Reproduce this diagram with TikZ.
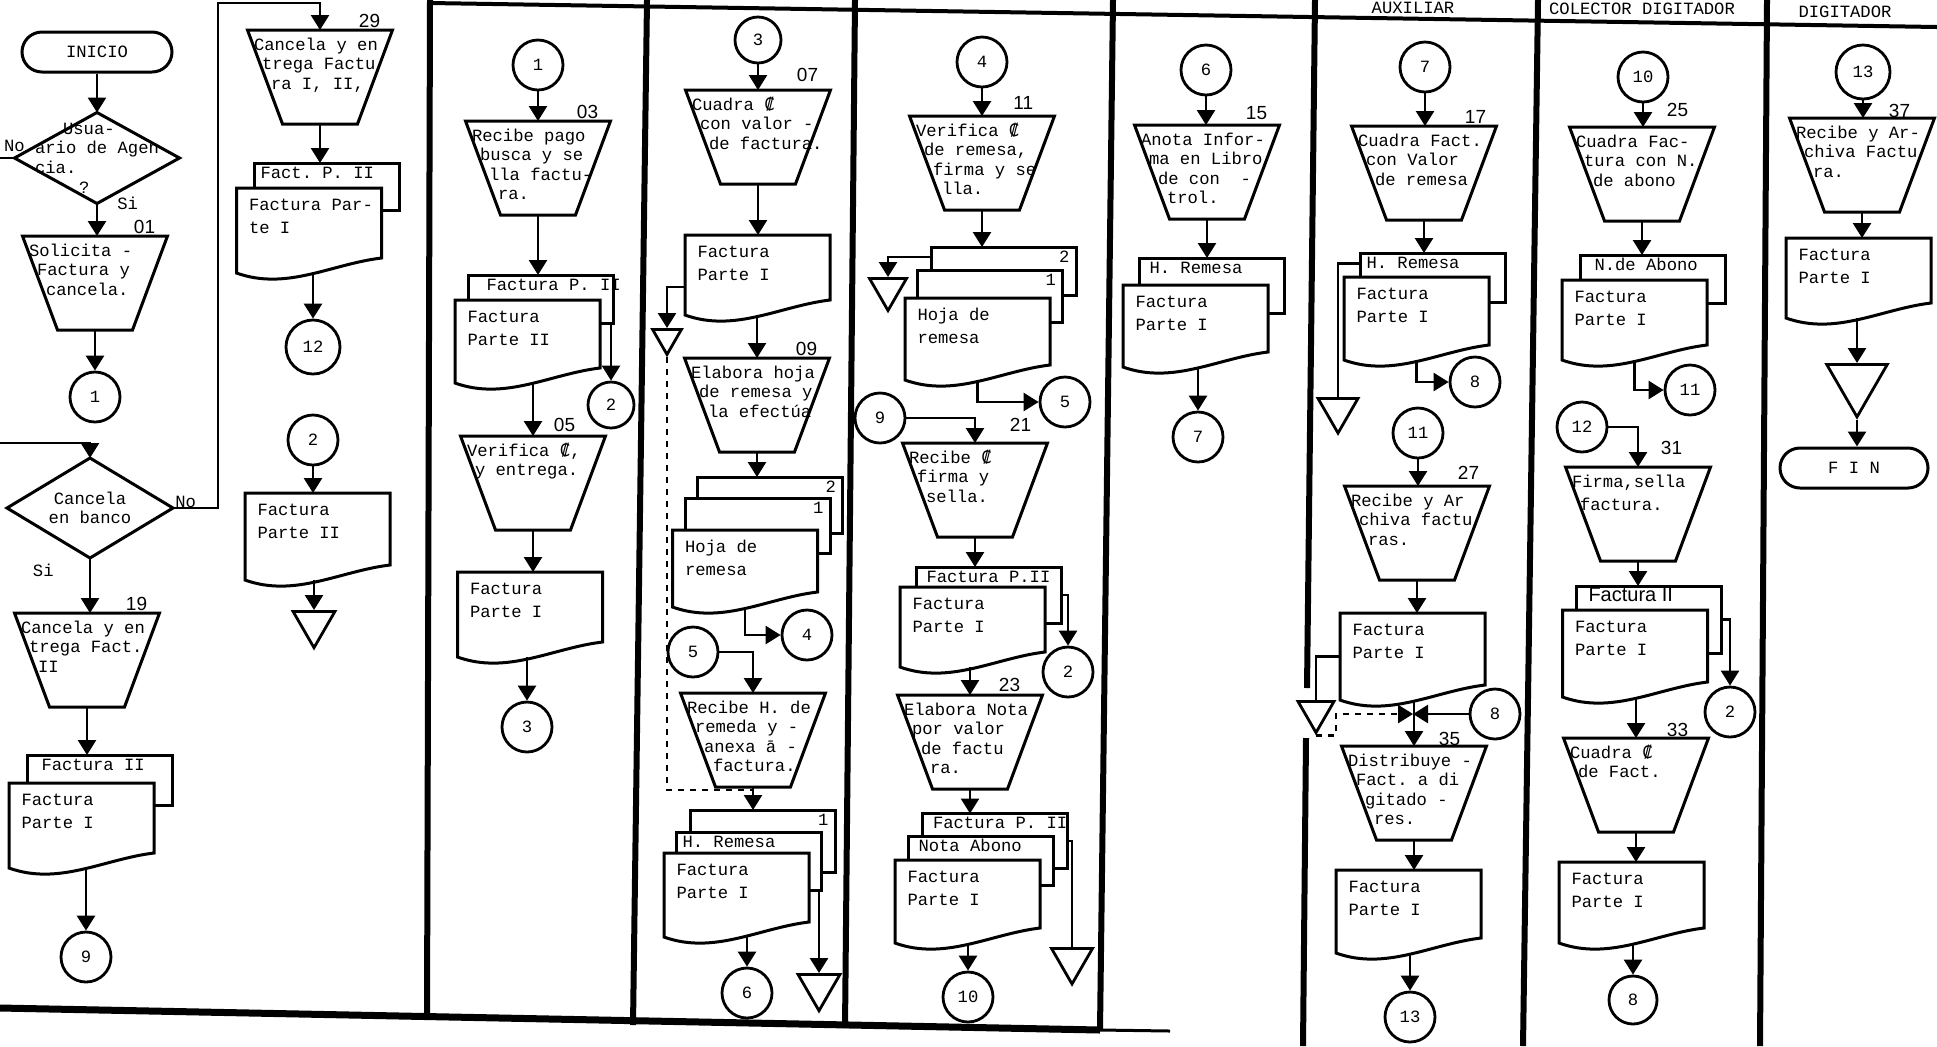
\documentclass[tikz,border=0pt]{standalone}
\usepackage{fontspec}
\setmonofont{Liberation Mono}
\setsansfont{Liberation Sans}
\newfontfamily\dvmono{DejaVu Sans Mono}
\usetikzlibrary{positioning,arrows.meta,shapes.geometric}

\newcommand\colones{{\dvmono ₡}}
% text inside a process (trapezoid), lines follow the slanted side
\newcommand\trp[1]{\makebox[68pt][l]{\parbox[c][43pt][t]{68pt}{\parshape 4 1pt 90pt 5pt 90pt 9.5pt 90pt 14pt 90pt \rule{0pt}{8pt}#1}}}
\newcommand\trapecio[1]{\draw[forma] (#1.north west) -- (#1.north east) -- ([xshift=-17.5pt]#1.south east) -- ([xshift=17.5pt]#1.south west) -- cycle;}
% document: name, x, y, height, text
\newcommand\hoja[5]{%
  \draw[forma, fill=white] ([shift={(-36.25pt,#4/2)}]#2,#3) -- ([shift={(36.25pt,#4/2)}]#2,#3)
    -- ([shift={(36.25pt,-#4/2+7.5pt)}]#2,#3)
    .. controls +(-25pt,-3pt) and +(25pt,-9pt) .. ([shift={(-36.25pt,-#4/2)}]#2,#3) -- cycle;
  \node[documento, minimum height=#4] (#1) at (#2,#3)
    {\makebox[64pt][l]{\parbox[c][\dimexpr#4-4pt\relax][t]{64pt}{\parshape 1 2pt 90pt \rule{0pt}{9pt}#5}}};
}
% copy behind a document: name, x, y, height, label
\newcommand\caja[5]{%
  \node[copia, minimum height=#4] (#1) at (#2,#3)
    {\parbox[c][\dimexpr#4-2pt\relax][t]{66pt}{\makebox[66pt][l]{\rule{0pt}{6.5pt}#5}}};
}

\tikzset{
  forma/.style={line width=1.5pt},
  flecha/.style={line width=1.3pt, -{Triangle[width=9pt,length=7.5pt]}},
  linea/.style={line width=1.3pt},
  marco/.style={line width=3pt},
  proceso/.style={inner sep=0pt, outer sep=0pt, minimum width=72.5pt, minimum height=47pt},
  documento/.style={inner sep=0pt, outer sep=0pt, minimum width=72.5pt, font=\ttfamily\fontsize{8.6}{11.5}\selectfont},
  copia/.style={draw, fill=white, line width=1.5pt, inner sep=0pt, outer sep=0pt, minimum width=72.5pt},
  conector/.style={circle, draw, line width=1.4pt, inner sep=0pt, minimum size=25pt},
  archivo/.style={regular polygon, regular polygon sides=3, shape border rotate=180, draw, line width=1.4pt, inner sep=0pt, anchor=north},
  terminal/.style={draw, line width=1.5pt, rounded corners=10pt, minimum width=75pt, minimum height=20pt},
  paso/.style={font=\sffamily\fontsize{9.5}{10}\selectfont, inner sep=0pt},
  rotulo/.style={font=\ttfamily\fontsize{8.6}{10}\selectfont, inner sep=0pt}
}

\begin{document}
\begin{tikzpicture}[x=0.5pt, y=-0.5pt, font=\ttfamily\fontsize{8.6}{9.8}\selectfont]
\useasboundingbox (0,0) rectangle (1937,1046);
\clip (0,0) rectangle (1937,1046);

% Frame and lanes
\draw[marco, line width=2pt] (430,3) -- (1937,27);
\draw[marco] (430,0) -- (427,1018);
\draw[marco] (647,0) -- (633,1025);
\draw[marco] (855,0) -- (845,1028);
\draw[marco] (1113,0) -- (1100,1030);
\draw[marco] (1315,0) -- (1307,688);
\draw[marco] (1306,738) -- (1303,1046);
\draw[marco] (1538,0) -- (1523,1046);
\draw[marco] (1767,0) -- (1760,1046);
\draw[marco, line width=3.5pt] (0,1008) -- (1100,1030);
\draw[marco, line width=1.5pt] (1100,1030) -- (1170,1031);

\node[rotulo] (hAux) at (1413,8) {AUXILIAR};
\node[rotulo] (hCol) at (1642,9) {COLECTOR DIGITADOR};
\node[rotulo] (hDig) at (1845,12) {DIGITADOR};

% Lane 1
\node[terminal] (inicio) at (97,52) {INICIO};
\node[proceso, minimum width=82.5pt, minimum height=45.5pt, align=left] (d1) at (97,158)
  {\hspace*{14pt}Usua-\\ario de Agen\\cia.\\\hspace*{22pt}?};
\draw[forma] (d1.north) -- (d1.east) -- (d1.south) -- (d1.west) -- cycle;
\node[rotulo, above=3pt of d1.west] (no1) {No};
\node[rotulo, right=10pt of d1.south] (si1) {Si};
\node[proceso] (t01) at (95,283) {\trp{Solicita -\\Factura y\\cancela.}};
\trapecio{t01}
\node[paso, above left=1pt and 6pt of t01.north east] (n01) {01};
\node[conector] (c1) at (95,397) {1};
\coordinate (bordeA) at (0,158);
\coordinate (bordeB) at (0,443);

\node[proceso, minimum width=83pt, minimum height=50pt, align=center] (d2) at (90,508) {Cancela\\en banco};
\draw[forma] (d2.north) -- (d2.east) -- (d2.south) -- (d2.west) -- cycle;
\node[rotulo, above right=0pt and 1pt of d2.east] (no2) {No};
\node[rotulo, below left=3pt and 18pt of d2.south] (si2) {Si};
\node[proceso] (t19) at (87,660) {\trp{Cancela y en\\trega Fact.\\II}};
\trapecio{t19}
\node[paso, above left=1pt and 6pt of t19.north east] (n19) {19};
\caja{pb19}{99.5}{780}{25pt}{\hspace*{4pt}Factura II}
\hoja{d19}{81.5}{825.5}{42.5pt}{Factura\\Parte I}
\node[conector] (c9) at (86,957) {9};

\coordinate (retorno) at (218,3);
\node[proceso] (t29) at (320,77) {\trp{Cancela y en\\trega Factu\\ra I, II,}};
\trapecio{t29}
\node[paso, above left=1pt and 6pt of t29.north east] (n29) {29};
\caja{pb29}{326.5}{186.5}{23.5pt}{Fact. P. II}
\hoja{d29}{309}{230.5}{42.5pt}{Factura Par-\\te I}
\node[conector, minimum size=27pt] (c12) at (313,347) {12};
\node[conector] (c2a) at (313,440) {2};
\hoja{d2a}{317.5}{536.5}{43.5pt}{Factura\\Parte II}
\node[archivo, minimum size=24.2pt] (tri1) at (314,610) {};

% Lane 2
\node[conector] (c1b) at (538,65) {1};
\node[proceso] (t03) at (538,168) {\trp{Recibe pago\\busca y se\\lla factu-\\ra.}};
\trapecio{t03}
\node[paso, above left=1pt and 6pt of t03.north east] (n03) {03};
\caja{pb03}{540.5}{299}{24pt}{\hspace*{6pt}Factura P. II}
\hoja{d03}{527.5}{341.5}{41.5pt}{Factura\\Parte II}
\node[conector, minimum size=23pt] (c2b) at (611,405) {2};
\node[proceso] (t05) at (533,483) {\trp{Verifica \colones,\\y entrega.}};
\trapecio{t05}
\node[paso, above left=2pt and 15pt of t05.north east] (n05) {05};
\hoja{d05}{530}{614.5}{42.5pt}{Factura\\Parte I}
\node[conector] (c3a) at (527,727) {3};

% Lane 3
\node[conector, minimum size=23pt] (c3b) at (758,40) {3};
\node[proceso] (t07) at (758,137) {\trp{Cuadra \colones\\con valor -\\de factura.}};
\trapecio{t07}
\node[paso, above left=4pt and 6pt of t07.north east] (n07) {07};
\hoja{d07}{757.5}{275}{40pt}{Factura\\Parte I}
\node[archivo, minimum size=16.7pt] (tri2) at (667,328) {};
\node[proceso] (t09) at (757,405) {\trp{Elabora hoja\\de remesa y\\la efectúa}};
\trapecio{t09}
\node[paso, above left=1pt and 6pt of t09.north east] (n09) {09};
\caja{pb09a}{770}{505}{28pt}{\hfill 2}
\caja{pb09b}{757.5}{525.5}{27.5pt}{\hfill 1}
\hoja{d09}{745}{568.5}{38.5pt}{Hoja de\\remesa}
\node[conector] (c4a) at (807,635) {4};
\node[conector] (c5a) at (693,652) {5};
\node[proceso] (t13) at (753,740) {\trp{Recibe H. de\\remeda y -\\anexa ā -\\factura.}};
\trapecio{t13}
\coordinate (junta) at (753,790);
\caja{pb13a}{762.5}{841}{31pt}{\hfill 1}
\caja{pb13b}{748.5}{861}{29pt}{H. Remesa}
\hoja{d13}{736.5}{895}{42pt}{Factura\\Parte I}
\node[archivo, minimum size=24.2pt] (tri3) at (819,973) {};
\node[conector] (c6a) at (747,993) {6};

% Lane 4
\node[conector] (c4b) at (982,62) {4};
\node[proceso] (t11) at (982,163) {\trp{Verifica \colones\\de remesa,\\firma y se\\lla.}};
\trapecio{t11}
\node[paso, above left=3pt and 10.5pt of t11.north east] (n11) {11};
\caja{pb11a}{1003.5}{271}{24pt}{\hfill 2}
\caja{pb11b}{990}{296}{26pt}{\hfill 1}
\hoja{d11}{977.5}{339}{41pt}{Hoja de\\remesa}
\node[archivo, minimum size=21.4pt] (tri4) at (888,277) {};
\node[conector] (c5b) at (1065,402) {5};
\node[conector] (c9b) at (880,418) {9};
\node[proceso] (t21) at (975,490) {\trp{Recibe \colones\\firma y\\sella.}};
\trapecio{t21}
\node[paso, above left=5.5pt and 8pt of t21.north east] (n21) {21};
\caja{pb21}{988.5}{595}{28pt}{\hspace*{2pt}Factura P.II}
\hoja{d21}{972.5}{627}{40pt}{Factura\\Parte I}
\node[conector] (c2c) at (1068,672) {2};
\node[proceso] (t23) at (970,742) {\trp{Elabora Nota\\por valor\\de factu\\ra.}};
\trapecio{t23}
\node[paso, above left=1.5pt and 11pt of t23.north east] (n23) {23};
\caja{pb23a}{995}{841}{27.5pt}{\hspace*{2pt}Factura P. II}
\caja{pb23b}{980.5}{860.5}{24.5pt}{\hspace*{2pt}Nota Abono}
\hoja{d23}{967.5}{901.5}{41.5pt}{Factura\\Parte I}
\node[archivo, minimum size=23.7pt] (tri5) at (1072,947) {};
\node[conector] (c10a) at (968,997) {10};

% Lane 5
\node[conector] (c6b) at (1206,70) {6};
\node[proceso] (t15) at (1207,172) {\trp{Anota Infor-\\ma en Libro\\de con\ \ -\\trol.}};
\trapecio{t15}
\node[paso, above left=2.5pt and 6pt of t15.north east] (n15) {15};
\caja{pb15}{1211.5}{285.5}{27.5pt}{\hspace*{2pt}H. Remesa}
\hoja{d15}{1195.5}{326}{41pt}{Factura\\Parte I}
\node[conector] (c7a) at (1198,437) {7};

% Lane 6
\node[conector] (c7b) at (1425,67) {7};
\node[proceso] (t17) at (1424,173) {\trp{Cuadra Fact.\\con Valor\\de remesa}};
\trapecio{t17}
\node[paso, above left=1pt and 5pt of t17.north east] (n17) {17};
\caja{pb17}{1432.5}{277.5}{24.5pt}{H. Remesa}
\hoja{d17}{1416.5}{318.5}{41.5pt}{Factura\\Parte I}
\node[archivo, minimum size=23.1pt] (tri6) at (1338,397) {};
\node[conector] (c8a) at (1475,382) {8};
\node[conector] (c11a) at (1418,433) {11};
\node[proceso] (t27) at (1417,533) {\trp{Recibe y Ar\\chiva factu\\ras.}};
\trapecio{t27}
\node[paso, above left=3pt and 5pt of t27.north east] (n27) {27};
\hoja{d27}{1412.5}{656.5}{43.5pt}{Factura\\Parte I}
\node[archivo, minimum size=20.8pt] (tri7) at (1316,700) {};
\coordinate (cruce) at (1413,714);
\node[conector] (c8b) at (1495,714) {8};
\node[proceso] (t35) at (1414,793) {\trp{Distribuye -\\Fact. a di\\gitado -\\res.}};
\trapecio{t35}
\node[paso, above left=0pt and 13pt of t35.north east] (n35) {35};
\hoja{d35}{1408.5}{911.5}{41.5pt}{Factura\\Parte I}
\node[conector] (c13a) at (1410,1017) {13};

% Lane 7
\node[conector] (c10b) at (1643,77) {10};
\node[proceso] (t25) at (1642,174) {\trp{Cuadra Fac-\\tura con N.\\de abono}};
\trapecio{t25}
\node[paso, above left=5pt and 13pt of t25.north east] (n25) {25};
\caja{pb25}{1652.5}{279}{24pt}{\hspace*{4pt}N.de Abono}
\hoja{d25}{1634.5}{320}{40pt}{Factura\\Parte I}
\node[conector] (c11b) at (1690,390) {11};
\node[conector] (c12b) at (1582,427) {12};
\node[proceso] (t31) at (1638,514) {\trp{Firma,sella\\[2pt]factura.}};
\trapecio{t31}
\node[paso, above left=6pt and 14pt of t31.north east] (n31) {31};
\caja{pb31}{1648.5}{619.5}{33.5pt}{\sffamily\fontsize{10}{10}\selectfont\hspace*{3pt}Factura II}
\hoja{d31}{1635}{653.5}{43.5pt}{Factura\\Parte I}
\node[conector] (c2d) at (1730,712) {2};
\node[proceso] (t33) at (1636,785) {\trp{Cuadra \colones\\de Fact.}};
\trapecio{t33}
\node[paso, above left=0.5pt and 10pt of t33.north east] (n33) {33};
\hoja{d33}{1631.5}{902.5}{40.5pt}{Factura\\Parte I}
\node[conector, minimum size=24pt] (c8c) at (1633,1000) {8};

% Lane 8
\node[conector, minimum size=27pt] (c13b) at (1863,72) {13};
\node[proceso] (t37) at (1862,165) {\trp{Recibe y Ar-\\chiva Factu\\ra.}};
\trapecio{t37}
\node[paso, above left=0pt and 12pt of t37.north east] (n37) {37};
\hoja{d37}{1858.5}{278}{40pt}{Factura\\Parte I}
\node[archivo, minimum size=35pt] (tri8) at (1857,363) {};
\node[terminal, minimum width=74pt] (fin) at (1854,468) {F I N};

% Connectors
\draw[flecha] (inicio.south) -- (inicio.south |- d1.north);
\draw[linea] (d1.west) -- (bordeA);
\draw[flecha] (d1.south) -- (d1.south |- t01.north);
\draw[flecha] (t01.south) -- (t01.south |- c1.north);
\draw[flecha] (bordeB) -| (d2.north);
\draw[flecha] (d2.east) -| (retorno) -| (t29.north);
\draw[flecha] (d2.south) -- (d2.south |- t19.north);
\draw[flecha] (t19.south) -- (t19.south |- pb19.north);
\draw[flecha] (c9.north |- d19.south) -- (c9.north);
\draw[flecha] (t29.south) -- (t29.south |- pb29.north);
\draw[flecha] (c12.north |- d29.south) -- (c12.north);
\draw[flecha] (c2a.south) -- (c2a.south |- d2a.north);
\draw[flecha] (tri1.north |- d2a.south) -- (tri1.north);

\draw[flecha] (c1b.south) -- (c1b.south |- t03.north);
\draw[flecha] (t03.south) -- (t03.south |- pb03.north);
\draw[flecha] (c2b.north |- pb03.south) -- (c2b.north);
\draw[flecha] (t05.north |- d03.south) -- (t05.north);
\draw[flecha] (t05.south) -- (t05.south |- d05.north);
\draw[flecha] (c3a.north |- d05.south) -- (c3a.north);

\draw[flecha] (c3b.south) -- (c3b.south |- t07.north);
\draw[flecha] (t07.south) -- (t07.south |- d07.north);
\draw[flecha] ([yshift=-6pt]d07.west) -| (tri2.north);
\draw[linea, dashed] (tri2.south) |- (junta);
\draw[flecha] (t09.north |- d07.south) -- (t09.north);
\draw[flecha] (t09.south) -- (t09.south |- pb09a.north);
\draw[flecha] (d09.south) |- (c4a.west);
\draw[flecha] (c5a.east) -| (t13.north);
\draw[flecha] (t13.south) -- (t13.south |- pb13a.north);
\draw[flecha] (tri3.north |- pb13b.south) -- (tri3.north);
\draw[flecha] (c6a.north |- d13.south) -- (c6a.north);

\draw[flecha] (c4b.south) -- (c4b.south |- t11.north);
\draw[flecha] (t11.south) -- (t11.south |- pb11a.north);
\draw[flecha] ([yshift=7pt]pb11a.west) -| (tri4.north);
\draw[flecha] (d11.south) |- (c5b.west);
\draw[flecha] (c9b.east) -| (t21.north);
\draw[flecha] (t21.south) -- (t21.south |- pb21.north);
\draw[flecha] (pb21.east) -| (c2c.north);
\draw[flecha] (t23.north |- d21.south) -- (t23.north);
\draw[flecha] (t23.south) -- (t23.south |- pb23a.north);
\draw[linea] (pb23a.east) -| (tri5.north);
\draw[flecha] (c10a.north |- d23.south) -- (c10a.north);

\draw[flecha] (c6b.south) -- (c6b.south |- t15.north);
\draw[flecha] (t15.south) -- (t15.south |- pb15.north);
\draw[flecha] (c7a.north |- d15.south) -- (c7a.north);

\draw[flecha] (c7b.south) -- (c7b.south |- t17.north);
\draw[flecha] (t17.south) -- (t17.south |- pb17.north);
\draw[linea] ([yshift=7pt]pb17.west) -| (tri6.north);
\draw[flecha] (d17.south) |- (c8a.west);
\draw[flecha] (c11a.south) -- (c11a.south |- t27.north);
\draw[flecha] (t27.south) -- (t27.south |- d27.north);
\draw[linea] (d27.west) -| (tri7.north);
\draw[flecha] (t35.north |- d27.south) -- (t35.north);
\draw[flecha] (c8b.west) -- (cruce);
\draw[flecha, dashed] (tri7.south) -- ++(20,0) |- (cruce);
\draw[flecha] (t35.south) -- (t35.south |- d35.north);
\draw[flecha] (c13a.north |- d35.south) -- (c13a.north);

\draw[flecha] (c10b.south) -- (c10b.south |- t25.north);
\draw[flecha] (t25.south) -- (t25.south |- pb25.north);
\draw[flecha] (d25.south) |- (c11b.west);
\draw[flecha] (c12b.east) -| (t31.north);
\draw[flecha] (t31.south) -- (t31.south |- pb31.north);
\draw[flecha] (pb31.east) -| (c2d.north);
\draw[flecha] (t33.north |- d31.south) -- (t33.north);
\draw[flecha] (t33.south) -- (t33.south |- d33.north);
\draw[flecha] (c8c.north |- d33.south) -- (c8c.north);

\draw[flecha] (c13b.south) -- (c13b.south |- t37.north);
\draw[flecha] (t37.south) -- (t37.south |- d37.north);
\draw[flecha] (tri8.north |- d37.south) -- (tri8.north);
\draw[flecha] (tri8.south) -- (tri8.south |- fin.north);

\end{tikzpicture}
\end{document}
